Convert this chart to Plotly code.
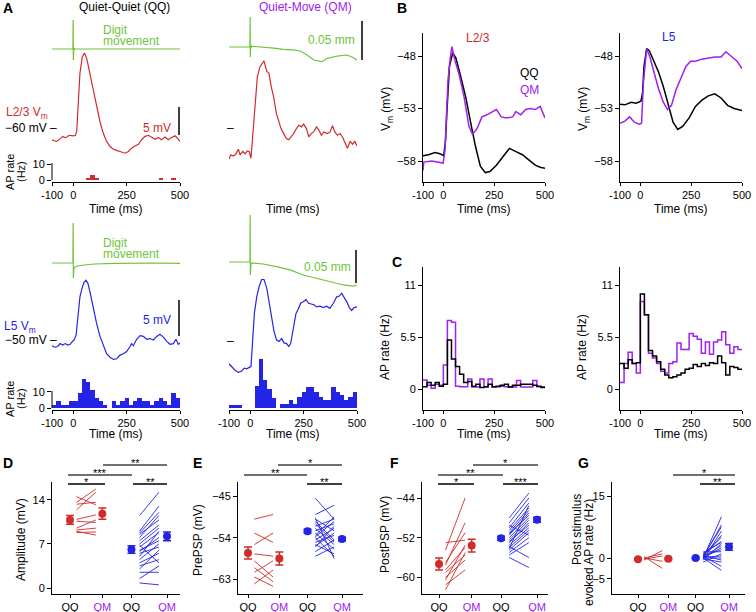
import plotly.graph_objects as go

W, H = 756, 612
FONT = "Liberation Sans, Arial, Helvetica, sans-serif"
RED = "#D22B2B"
BLUE = "#2424E8"
PURPLE = "#A020F0"
GREEN = "#6CC43A"
GREY = "#404040"

# ------------------------------------------------------------------ data
TIME_TICKS = [-100, 0, 250, 500]
TIME_TICKTEXT = ["-100", "0", "250", "500"]
BIN_LEFT = [-100, -80, -60, -40, -20, 0, 20, 40, 60, 80, 100, 120, 140, 160, 180,
            200, 220, 240, 260, 280, 300, 320, 340, 360, 380, 400, 420, 440, 460, 480]
BIN_W = 20

# Panel A - digit movement (mm, relative to baseline)
M23_QQ_t = [-100, -60, -20, -2, -1, 0, 1, 2, 4, 8, 20, 100, 250, 400, 500]
M23_QQ = [0, 0, 0, 0, 0.0362, -0.0137, 0.004, -0.003, 0.001, 0, 0, 0, 0, 0, 0]
M23_QM_t = [-100, -60, -20, -2, -1, 0, 1, 3, 6, 20, 60, 110, 156, 200, 234, 266, 297,
            320, 336, 361, 408, 447, 470, 500]
M23_QM = [0, 0.0004, 0, 0, 0.0375, -0.0125, 0.003, -0.002, 0.001, 0.0006, 0, -0.0015,
          -0.0029, -0.0035, -0.005, -0.010, -0.0163, -0.0178, -0.0183, -0.0142, -0.0113,
          -0.010, -0.0115, -0.0163]
M5_QQ_t = [-100, -60, -20, -2, -1, 0, 1, 3, 8, 20, 50, 100, 200, 300, 400, 500]
M5_QQ = [0, 0, 0, 0, 0.0606, -0.0227, 0.006, -0.008, -0.006, -0.0045, -0.003, -0.0015,
         -0.0005, 0, 0, -0.0005]
M5_QM_t = [-100, -60, -20, -2, -1, 0, 1, 3, 8, 20, 60, 123, 186, 248, 311, 373, 436, 483, 500]
M5_QM = [0, 0, 0, 0, 0.0712, -0.0197, 0.004, -0.003, -0.0015, -0.002, -0.003, -0.007,
         -0.012, -0.0197, -0.0247, -0.0298, -0.0348, -0.0364, -0.0348]

# Panel A - membrane potential (mV)
VM23_QQ_t = [-100, -90, -80, -70, -60, -50, -40, -30, -20, -10, 0, 10, 16, 24, 31, 42, 52, 63,
             78, 94, 109, 125, 141, 156, 172, 188, 203, 219, 234, 242, 258, 273, 289, 305,
             320, 336, 352, 367, 383, 398, 414, 430, 445, 461, 477, 492, 500]
VM23_QQ = [-62.1, -62.3, -62.4, -62.2, -61.9, -61.5, -61.7, -61.6, -61.3, -61.4, -61.4, -61.3,
           -60.5, -55.0, -50.2, -47.3, -46.6, -47.6, -50.2, -53.2, -56.2, -58.9, -61.0, -62.4,
           -63.3, -63.8, -64.0, -64.2, -64.4, -64.5, -64.2, -63.6, -63.2, -62.9, -62.1, -61.5,
           -61.3, -61.6, -62.0, -61.7, -62.1, -61.6, -62.1, -61.7, -61.4, -62.0, -62.4]
VM23_QM_t = [-100, -92, -80, -67, -56, -48, -36, -25, -14, -5, 3, 11, 22, 33, 45, 58, 64, 77,
             87, 98, 109, 122, 133, 144, 156, 169, 180, 191, 203, 216, 227, 240, 250, 263,
             274, 285, 297, 310, 322, 333, 345, 361, 374, 385, 396, 408, 421, 432, 443, 455,
             468, 479, 490, 500]
VM23_QM = [-65.6, -64.8, -65.0, -64.6, -63.8, -64.8, -64.2, -64.6, -64.1, -64.2, -65.4, -61.0,
           -55.0, -50.8, -49.1, -48.2, -48.0, -49.9, -50.2, -52.6, -54.4, -57.4, -58.9, -60.1,
           -61.0, -61.9, -62.1, -61.6, -61.0, -60.1, -59.5, -59.8, -59.3, -60.1, -61.6, -61.0,
           -60.7, -59.8, -60.4, -61.3, -60.7, -61.0, -60.7, -59.6, -60.7, -61.3, -61.0, -61.6,
           -62.7, -63.6, -62.4, -62.9, -62.4, -63.2]
VM5_QQ_t = [-100, -85, -74, -62, -50, -38, -26, -15, -4, 4, 13, 22, 31, 41, 50, 59, 68, 78, 94,
            109, 125, 141, 156, 172, 188, 203, 219, 234, 250, 266, 273, 281, 297, 313, 328,
            344, 359, 375, 391, 406, 422, 438, 453, 469, 481, 492, 500]
VM5_QQ = [-50.8, -51.0, -50.9, -50.5, -50.7, -50.5, -50.7, -50.6, -50.2, -50.0, -49.3, -46.3,
          -44.0, -42.8, -42.0, -41.7, -42.1, -43.3, -45.8, -47.7, -49.5, -50.9, -51.9, -52.4,
          -52.7, -52.6, -52.1, -51.9, -51.6, -50.9, -50.5, -50.8, -49.9, -49.4, -49.5, -49.9,
          -49.8, -50.0, -49.5, -49.2, -49.6, -50.2, -50.6, -50.5, -49.9, -50.6, -50.4]
VM5_QM_t = [-100, -88, -72, -56, -41, -28, -17, -5, 3, 11, 19, 30, 41, 53, 64, 77, 89, 100,
            111, 123, 134, 147, 158, 170, 180, 189, 202, 214, 225, 236, 248, 261, 273, 288,
            298, 311, 327, 342, 358, 373, 389, 405, 417, 428, 439, 452, 464, 475, 486, 500]
VM5_QM = [-53.3, -53.7, -54.2, -54.5, -54.3, -53.9, -54.0, -53.8, -53.7, -50.0, -46.3, -44.0,
          -42.6, -41.6, -41.6, -42.8, -44.9, -47.2, -48.8, -50.0, -50.2, -49.8, -50.4, -50.5,
          -50.9, -50.5, -48.2, -46.3, -45.7, -44.9, -44.7, -44.4, -44.9, -45.0, -45.1, -45.4,
          -45.3, -45.5, -45.3, -45.6, -44.9, -44.0, -43.9, -43.5, -44.0, -44.7, -45.5, -45.9,
          -45.5, -45.4]

# Panel A - AP rate histograms (Hz, 20 ms bins)
AP23_QQ = [0, 0, 0, 0, 0, 0, 0, 0, 1.2, 3.5, 1.2, 0, 0, 0, 0,
           0, 0, 0, 0, 0, 0, 0, 0, 0, 0, 1.2, 0, 0, 1.2, 0]
AP5_QQ = [2.1, 4.6, 2.0, 2.1, 4.6, 4.6, 9.4, 18.0, 16.0, 11.0, 6.3, 4.6, 2.0, 0, 4.6,
          2.1, 4.6, 6.0, 2.1, 4.6, 6.0, 4.6, 4.6, 2.1, 4.6, 6.0, 4.6, 2.1, 9.4, 6.0]
AP5_QM = [2, 2, 2, 0, 0, 0, 13.5, 30, 17, 12, 6, 0, 2.7, 2.7, 4.8,
          2.7, 6.9, 10, 13, 13, 10, 7, 5, 5, 13, 10, 8, 5, 7, 10]

# Panel B - average Vm (mV)
B23_QQ_t = [-100, -73, -41, -17, 2, 11, 17, 23, 30, 46, 62, 86, 110, 134, 158, 182, 206, 229,
            261, 293, 325, 357, 389, 420, 452, 476, 500]
B23_QQ = [-57.5, -57.4, -57.2, -57.3, -57.5, -56.0, -53.5, -50.6, -49.0, -47.7, -48.2, -50.0,
          -51.9, -54.3, -56.6, -58.5, -59.1, -59.0, -58.4, -57.6, -56.8, -57.1, -57.4, -57.9,
          -58.4, -58.6, -58.7]
B23_QM_t = [-100, -96, -57, -25, -1, 8, 15, 23, 33, 42, 54, 78, 102, 126, 142, 150, 166, 190,
            214, 245, 261, 285, 309, 341, 357, 381, 405, 428, 452, 476, 492, 500]
B23_QM = [-58.9, -58.1, -58.0, -58.1, -58.2, -57.0, -53.5, -50.3, -48.4, -47.1, -48.2, -49.8,
          -51.9, -54.7, -55.4, -55.3, -54.9, -53.8, -53.6, -53.3, -53.1, -53.8, -53.9, -53.8,
          -53.3, -53.6, -53.1, -53.0, -53.1, -52.8, -53.6, -53.9]
B5_QQ_t = [-100, -76, -45, -21, 3, 11, 18, 31, 44, 66, 89, 113, 137, 161, 184, 208, 240, 271,
           303, 334, 366, 397, 429, 461, 500]
B5_QQ = [-52.6, -52.65, -52.4, -52.5, -52.3, -51.5, -49.0, -47.3, -47.5, -48.4, -49.5, -50.9,
         -52.5, -54.3, -55.0, -54.7, -53.9, -52.8, -52.2, -51.8, -51.6, -52.0, -52.7, -53.0, -53.2]
B5_QM_t = [-100, -76, -53, -29, -5, 6, 15, 31, 47, 66, 89, 113, 134, 153, 176, 200, 224, 247,
           271, 303, 334, 366, 397, 421, 445, 476, 500]
B5_QM = [-54.4, -54.2, -53.8, -54.3, -54.5, -54.4, -50.6, -47.3, -48.1, -49.5, -51.1, -52.4,
         -53.1, -52.7, -51.2, -50.1, -49.0, -48.5, -48.5, -48.3, -48.2, -48.1, -48.1, -47.6,
         -48.0, -48.5, -49.2]

# Panel C - average AP rate (Hz, 20 ms bins)
C23_QM = [0.96, 0.4, 0.07, 0.5, 0.4, 2.55, 7.3, 7.1, 0.3, 0.25, 0.25, 1.06, 0.2, 0.2, 1.06,
          0.2, 1.06, 0.2, 0.25, 0.3, 0.25, 0.2, 0.2, 0.9, 0.2, 0.2, 0.2, 0.9, 0.25, 0.25]
C23_QQ = [0.25, 0.7, 0.4, 0.7, 0.3, 0.5, 5.2, 3.2, 2.4, 1.56, 0.7, 0.8, 0.3, 0.5, 0.15,
          0.25, 0.5, 0.25, 0.3, 0.4, 0.5, 0.2, 0.4, 0.4, 0.5, 0.5, 0.5, 0.4, 0.3, 0.15]
C5_QM = [0.7, 2.7, 3.9, 2.7, 1.7, 9.3, 7.9, 3.8, 3.3, 2.7, 1.9, 1.7, 2.7, 2.9, 4.9,
         4.2, 4.2, 5.9, 5.6, 5.3, 3.8, 5.0, 3.7, 5.0, 5.2, 6.1, 4.7, 3.8, 4.5, 4.2]
C5_QQ = [2.7, 2.2, 3.1, 2.7, 2.8, 10.1, 7.9, 4.1, 3.5, 2.9, 2.1, 1.5, 1.2, 1.3, 1.5,
         1.7, 2.1, 2.2, 2.6, 2.4, 2.7, 2.5, 2.8, 2.7, 3.5, 2.8, 1.5, 2.4, 2.3, 2.1]

# Panels D-G - population data
CATS = ["QQ", "QM", "QQ", "QM"]
D_RED_QQ = [14.5, 13.6, 13.3, 12.4, 10.9, 10.6, 9.5, 9.2, 9.0, 8.8]
D_RED_QM = [13.2, 15.7, 13.6, 15.2, 11.6, 10.4, 10.8, 9.5, 8.4, 8.9]
D_BLUE_QQ = [11.5, 9.0, 8.7, 8.5, 8.0, 7.5, 7.0, 6.5, 6.0, 5.8, 5.5, 5.0, 4.5, 4.0, 3.5, 3.0, 2.5, 1.5, 0.8, 6.8]
D_BLUE_QM = [15.2, 13.0, 12.0, 10.8, 11.5, 10.0, 9.5, 8.8, 7.5, 8.0, 6.5, 9.0, 7.0, 5.5, 4.5, 6.0, 2.5, 3.5, 0.5, 4.0]
D_MEAN = [10.8, 11.8, 6.1, 8.2]
D_SEM = [0.7, 0.9, 0.6, 0.7]

E_RED_QQ = [-50.0, -53.0, -55.5, -57.5, -59.0, -61.5, -62.5, -60.5, -64.0]
E_RED_QM = [-49.0, -55.0, -53.0, -58.0, -62.5, -59.0, -64.5, -63.5, -61.0]
E_BLUE_QQ = [-45.5, -49.0, -50.0, -50.5, -51.5, -52.0, -52.5, -53.0, -53.5, -54.0, -54.5, -55.0,
             -55.5, -56.0, -57.0, -58.0, -51.0, -53.8, -55.8, -49.8]
E_BLUE_QM = [-50.0, -47.0, -52.5, -54.5, -50.0, -55.5, -51.0, -56.5, -49.5, -58.0, -52.0, -53.5,
             -57.5, -51.5, -54.5, -56.0, -55.0, -50.5, -53.0, -58.5]
E_MEAN = [-57.3, -58.5, -52.6, -54.3]
E_SEM = [1.3, 1.4, 0.4, 0.4]

F_RED_QQ = [-53.0, -54.5, -57.0, -57.5, -58.5, -59.0, -60.0, -60.5, -61.5, -62.5]
F_RED_QM = [-52.5, -44.0, -51.0, -49.0, -54.0, -55.5, -56.5, -53.5, -58.5, -55.0]
F_BLUE_QQ = [-48.0, -49.0, -50.0, -50.5, -51.0, -51.5, -52.0, -52.5, -53.0, -53.5, -54.0, -54.5,
             -55.0, -55.5, -56.0, -51.2, -52.8, -54.2, -49.5, -53.8]
F_BLUE_QM = [-43.0, -44.0, -45.0, -46.0, -46.5, -47.0, -48.0, -48.5, -49.0, -50.0, -50.5, -51.0,
             -52.0, -53.0, -58.0, -47.5, -49.5, -45.5, -51.5, -56.0]
F_MEAN = [-57.3, -53.6, -52.1, -48.4]
F_SEM = [1.2, 1.3, 0.4, 0.5]

G_RED_QQ = [-0.5, 0.0, 0.0, 0.3, -0.3]
G_RED_QM = [1.8, 1.0, -0.8, -2.5, 0.5]
G_BLUE_QQ = [0, 0.2, 0.5, -0.3, 0, 0.8, 1.0, -0.5, 0.3, 0, 0.5, 1.5, -1.0, 0.2, 0, 0.6, -0.2, 0.4, 0, 1.2]
G_BLUE_QM = [10.0, 8.0, 7.5, 6.5, 5.5, 5.0, 4.0, 3.5, 3.0, 2.5, 2.0, 1.5, 1.0, 0.5, 0, -0.5, -1.0, -2.0, -3.0, 3.8]
G_MEAN = [-0.3, -0.2, 0.0, 2.7]
G_SEM = [0.2, 0.2, 0.2, 0.8]

# ------------------------------------------------------------------ helpers
layout = dict(width=W, height=H, autosize=False, margin=dict(l=0, r=0, t=0, b=0, pad=0),
              paper_bgcolor="white", plot_bgcolor="rgba(0,0,0,0)", showlegend=False,
              hovermode=False, font=dict(family=FONT, size=11, color="black"))
traces, shapes, annos = [], [], []
_n = [0]


def axes(x0, x1, y0, y1, xr, yr, xkw=None, ykw=None):
    _n[0] += 1
    s = "" if _n[0] == 1 else str(_n[0])
    base = dict(showgrid=False, zeroline=False, fixedrange=True, showline=True, automargin=False,
                linecolor="black", linewidth=1, ticks="outside", ticklen=3, tickwidth=1,
                tickcolor="black", tickfont=dict(size=11, family=FONT, color="black"),
                ticklabeloverflow="allow")
    xa = dict(base, domain=[x0 / W, x1 / W], range=xr, anchor="y" + s)
    ya = dict(base, domain=[1 - y1 / H, 1 - y0 / H], range=yr, anchor="x" + s, ticklen=4)
    xa.update(xkw or {})
    ya.update(ykw or {})
    layout["xaxis" + s] = xa
    layout["yaxis" + s] = ya
    return "x" + s, "y" + s


HID = dict(visible=False)
TIMEX = dict(tickvals=TIME_TICKS, ticktext=TIME_TICKTEXT)


def tx(x, y, s, size=12, color="black", angle=0, anchor="center"):
    annos.append(dict(x=x / W, y=1 - y / H, xref="paper", yref="paper", text=s,
                      showarrow=False, textangle=angle, xanchor=anchor, yanchor="middle",
                      font=dict(size=size, color=color, family=FONT)))


def ln(x0, y0, x1, y1, color="black", width=1):
    shapes.append(dict(type="line", xref="paper", yref="paper", x0=x0 / W, y0=1 - y0 / H,
                       x1=x1 / W, y1=1 - y1 / H, line=dict(color=color, width=width)))


def line(ax, x, y, color, width=1.2, shape="linear"):
    traces.append(go.Scatter(x=x, y=y, xaxis=ax[0], yaxis=ax[1], mode="lines",
                             line=dict(color=color, width=width, shape=shape),
                             hoverinfo="skip"))


def bars(ax, vals, color):
    traces.append(go.Bar(x=[b + BIN_W / 2 for b in BIN_LEFT], y=vals, width=BIN_W,
                         xaxis=ax[0], yaxis=ax[1], marker=dict(color=color, line=dict(width=0)),
                         hoverinfo="skip"))


def steps(ax, vals, color):
    line(ax, BIN_LEFT + [500], vals + [vals[-1]], color, width=1.5, shape="hv")


# ------------------------------------------------------------------ panel A
for col, (x0, x1) in enumerate([(52, 180), (229, 357)]):
    # L2/3 row
    base_mv = [49, 47][col]
    mv_ax = axes(x0, x1, 10, 70, [-100, 500],
                 [(base_mv - 70) / 800, (base_mv - 10) / 800], HID, HID)
    line(mv_ax, [M23_QQ_t, M23_QM_t][col], [M23_QQ, M23_QM][col], GREEN, 1.2)
    vm_ax = axes(x0, x1, 45, 165, [-100, 500],
                 [-60 + (128 - 165) / 5.6, -60 + (128 - 45) / 5.6], HID, HID)
    line(vm_ax, [VM23_QQ_t, VM23_QM_t][col], [VM23_QQ, VM23_QM][col], RED, 1.2)
    yk = dict(showline=False, tickvals=[0, 10], ticktext=["0", "10"]) if col == 0 else \
        dict(showline=False, ticks="", showticklabels=False)
    ap_ax = axes(x0, x1, 150, 182, [-100, 500], [-2 / 1.7, 32 / 1.7], TIMEX, yk)
    if col == 0:
        bars(ap_ax, AP23_QQ, RED)
        ln(52, 163, 52, 180)
    tx((x0 + x1) / 2, 209, "Time (ms)")

    # L5 row
    base_mv = [263, 262][col]
    mv_ax = axes(x0, x1, 205, 295, [-100, 500],
                 [(base_mv - 295) / 660, (base_mv - 205) / 660], HID, HID)
    line(mv_ax, [M5_QQ_t, M5_QM_t][col], [M5_QQ, M5_QM][col], GREEN, 1.2)
    vm_ax = axes(x0, x1, 270, 380, [-100, 500],
                 [-50 + (340 - 380) / 7.2, -50 + (340 - 270) / 7.2], HID, HID)
    line(vm_ax, [VM5_QQ_t, VM5_QM_t][col], [VM5_QQ, VM5_QM][col], BLUE, 1.2)
    yk = dict(showline=False, tickvals=[0, 10], ticktext=["0", "10"]) if col == 0 else \
        dict(showline=False, ticks="", showticklabels=False)
    ap_ax = axes(x0, x1, 340, 410, [-100, 500], [-2 / 1.67, 70 / 1.67], TIMEX, yk)
    bars(ap_ax, [AP5_QQ, AP5_QM][col], BLUE)
    if col == 0:
        ln(52, 391, 52, 408)
    tx((x0 + x1) / 2, 434, "Time (ms)")

tx(8, 8, "<b>A</b>", size=14)
tx(124, 7, "Quiet-Quiet (QQ)")
tx(305, 7, "Quiet-Move (QM)", color=PURPLE)
tx(101, 30, "Digit", color=GREEN, anchor="left")
tx(101, 41, "movement", color=GREEN, anchor="left")
tx(101, 243, "Digit", color=GREEN, anchor="left")
tx(101, 254, "movement", color=GREEN, anchor="left")
tx(4, 113, "L2/3 V<sub>m</sub>", color=RED, anchor="left")
tx(59, 128, "−60 mV –", anchor="right")
tx(173, 128, "5 mV", color=RED, anchor="right")
ln(179, 107, 179, 135, width=1.5)
tx(236, 128, "–", anchor="right")
tx(357, 40, "0.05 mm", color=GREEN, anchor="right")
ln(362, 21, 362, 60, width=1.5)
tx(2, 327, "L5 V<sub>m</sub>", color=BLUE, anchor="left")
tx(59, 340, "−50 mV –", anchor="right")
tx(173, 320, "5 mV", color=BLUE, anchor="right")
ln(179, 300, 179, 336, width=1.5)
tx(236, 341, "–", anchor="right")
tx(353, 267, "0.05 mm", color=GREEN, anchor="right")
ln(356, 250, 356, 283, width=1.5)
for yc in (172, 399):
    tx(10, yc, "AP rate", size=11, angle=-90)
    tx(21, yc, "(Hz)", size=11, angle=-90)

# ------------------------------------------------------------------ panel B
BY = dict(tickvals=[-58, -53, -48])
for (x0, x1), qq_t, qq, qm_t, qm in [((423, 545), B23_QQ_t, B23_QQ, B23_QM_t, B23_QM),
                                     ((620, 742), B5_QQ_t, B5_QQ, B5_QM_t, B5_QM)]:
    ax = axes(x0, x1, 33, 182, [-100, 500], [-48 - (182 - 56) / 10.5, -48 + (56 - 33) / 10.5],
              TIMEX, BY)
    line(ax, qq_t, qq, "black", 1.5)
    line(ax, qm_t, qm, PURPLE, 1.5)
    tx(x0 - 36, 109, "V<sub>m</sub> (mV)", angle=-90)
    tx((x0 + x1) / 2, 209, "Time (ms)")
tx(402, 8, "<b>B</b>", size=14)
tx(478, 38, "L2/3", color=RED)
tx(669, 37, "L5", color=BLUE)
tx(529, 73, "QQ")
tx(529, 90, "QM", color=PURPLE)

# ------------------------------------------------------------------ panel C
CY = dict(tickvals=[0, 5.5, 11], ticktext=["0", "5.5", "11"])
for (x0, x1), qq, qm in [((423, 545), C23_QQ, C23_QM), ((620, 742), C5_QQ, C5_QM)]:
    ax = axes(x0, x1, 267, 410, [-100, 500], [-(410 - 389) / 9.4, (389 - 267) / 9.4], TIMEX, CY)
    steps(ax, qm, PURPLE)
    steps(ax, qq, "black")
    tx(x0 - 38, 347, "AP rate (Hz)", angle=-90)
    tx((x0 + x1) / 2, 434, "Time (ms)")
tx(397, 262, "<b>C</b>", size=14)

# ------------------------------------------------------------------ panels D-G
POS = [1, 2, 2.9, 4]
QM_TXT = '<span style="color:%s">QM</span>' % PURPLE
CAT_X = dict(tickvals=POS, ticktext=[CATS[0], QM_TXT, CATS[2], QM_TXT])


def pop_panel(x0, x1, xr, yr, yticks, red_l, red_r, blue_l, blue_r, means, sems):
    ax = axes(x0, x1, 482, 594, xr, yr, CAT_X, dict(tickvals=yticks))
    for left, right, c, (xa, xb) in [(red_l, red_r, RED, (1.2, 1.8)),
                                     (blue_l, blue_r, BLUE, (3.15, 3.75))]:
        xs, ys = [], []
        for a, b in zip(left, right):
            xs += [xa, xb, None]
            ys += [a, b, None]
        traces.append(go.Scatter(x=xs, y=ys, xaxis=ax[0], yaxis=ax[1], mode="lines",
                                 line=dict(color=c, width=0.9), hoverinfo="skip"))
    for i, (p, m, s) in enumerate(zip(POS, means, sems)):
        c = RED if i < 2 else BLUE
        traces.append(go.Scatter(x=[p], y=[m], xaxis=ax[0], yaxis=ax[1], mode="markers",
                                 marker=dict(size=8, color=c),
                                 error_y=dict(type="data", array=[s], color=c, thickness=1.5, width=4),
                                 hoverinfo="skip"))


def sig(x0, x1, y, stars, color="black"):
    ln(x0, y, x1, y, color=color, width=1.3)
    tx((x0 + x1) / 2, y - 2, stars, size=11)


# D
pop_panel(52, 180, [1 - 18 / 32.33, 4 + 13 / 32.33], [-(594 - 588) / 6.3, (588 - 482) / 6.3],
          [0, 7, 14], D_RED_QQ, D_RED_QM, D_BLUE_QQ, D_BLUE_QM, D_MEAN, D_SEM)
tx(8, 463, "<b>D</b>", size=14)
tx(21, 540, "Amplitude (mV)", angle=-90)
sig(68, 105, 484, "*")
sig(68, 132, 475, "***", GREY)
sig(103, 167, 465, "**", GREY)
sig(133, 167, 484, "**")
# E
pop_panel(238, 363, [1 - 10 / 31.33, 4 + 21 / 31.33], [-45 - (594 - 496) / 4.63, -45 + (496 - 482) / 4.63],
          [-63, -54, -45], E_RED_QQ, E_RED_QM, E_BLUE_QQ, E_BLUE_QM, E_MEAN, E_SEM)
tx(197, 463, "<b>E</b>", size=14)
tx(198, 540, "PrePSP (mV)", angle=-90)
sig(244, 307, 475, "**", GREY)
sig(278, 342, 465, "*", GREY)
sig(307, 342, 484, "**")
# F
pop_panel(422, 548, [1 - 17 / 32.67, 4 + 11 / 32.67], [-44 - (594 - 498) / 4.96, -44 + (498 - 482) / 4.96],
          [-60, -52, -44], F_RED_QQ, F_RED_QM, F_BLUE_QQ, F_BLUE_QM, F_MEAN, F_SEM)
tx(395, 463, "<b>F</b>", size=14)
tx(385, 535, "PostPSP (mV)", angle=-90)
sig(438, 474, 484, "*")
sig(438, 503, 475, "**", GREY)
sig(473, 538, 465, "*", GREY)
sig(503, 538, 484, "***")
# G
pop_panel(612, 745, [1 - 26 / 30.33, 4 + 16 / 30.33], [-(594 - 558) / 4.13, (558 - 482) / 4.13],
          [-5, 0, 15], G_RED_QQ, G_RED_QM, G_BLUE_QQ, G_BLUE_QM, G_MEAN, G_SEM)
tx(583, 463, "<b>G</b>", size=14)
tx(577, 530, "Post stimulus", angle=-90)
tx(589, 553, "evoked AP rate (Hz)", angle=-90)
sig(673, 735, 475, "*", GREY)
sig(700, 735, 484, "**")

layout["shapes"] = shapes
layout["annotations"] = annos
layout["bargap"] = 0
fig = go.Figure(data=traces, layout=layout)
fig.write_html("out.html",
               config={"displayModeBar": False, "staticPlot": True},
               post_script="document.body.style.margin='0px';"
                           "document.body.style.padding='0px';"
                           "document.body.style.overflow='hidden';")
